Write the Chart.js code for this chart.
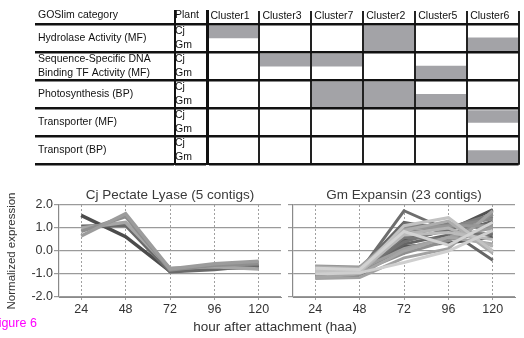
<!DOCTYPE html>
<html><head><meta charset="utf-8">
<script src="https://cdn.jsdelivr.net/npm/chart.js@4"></script>
<style>
html,body{margin:0;padding:0;background:#fff;}
body{width:524px;height:338px;overflow:hidden;position:relative;font-family:"Liberation Sans",Arial,sans-serif;}
canvas{position:absolute;display:block;}
#xt{position:absolute;left:155px;width:240px;top:319px;text-align:center;font-size:13.5px;line-height:16px;color:#333;white-space:nowrap;}
#fig{position:absolute;left:-9px;top:316px;font-size:12.5px;line-height:14px;color:#f0f;white-space:nowrap;}
</style></head>
<body>
<canvas id="tbl" width="530" height="175" style="left:0;top:0"></canvas>
<canvas id="c1" width="285" height="156" style="left:0;top:182px"></canvas>
<canvas id="c2" width="239" height="156" style="left:285px;top:182px"></canvas>
<div id="xt">hour after attachment (haa)</div>
<div id="fig">Figure 6</div>
<script>
// ---------- table data ----------
const headerCategory = 'GOSlim category';
const headerPlant = 'Plant';
const clusters = ['Cluster1','Cluster3','Cluster7','Cluster2','Cluster5','Cluster6'];
const goCategories = [
  ['Hydrolase Activity (MF)'],
  ['Sequence-Specific DNA','Binding TF Activity (MF)'],
  ['Photosynthesis (BP)'],
  ['Transporter (MF)'],
  ['Transport (BP)']
];
const plants = ['Cj','Gm'];
// 1 = shaded (enriched) for that plant / category / cluster
const cjEnriched = [
  [1,0,0,1,0,0],
  [0,1,1,0,0,0],
  [0,0,1,1,0,0],
  [0,0,0,0,0,1],
  [0,0,0,0,0,0]
];
const gmEnriched = [
  [0,0,0,1,0,1],
  [0,0,0,0,1,0],
  [0,0,1,1,1,0],
  [0,0,0,0,0,0],
  [0,0,0,0,0,1]
];

// ---------- line chart data ----------
const hours = ['24','48','72','96','120'];
const yTickValues = [-2, -1, 0, 1, 2];
const cjTitle = 'Cj Pectate Lyase (5 contigs)';
const gmTitle = 'Gm Expansin (23 contigs)';
const cj1 = [1.55, 0.62, -0.88, -0.75, -0.72];
const cj2 = [1.08, 1.12, -0.90, -0.80, -0.62];
const cj3 = [0.65, 1.62, -0.78, -0.55, -0.45];
const cj4 = [0.85, 1.50, -0.82, -0.62, -0.55];
const cj5 = [1.00, 1.25, -0.75, -0.68, -0.78];
const gm01 = [-0.85, -0.90, 1.75, 0.90, 0.70];
const gm02 = [-0.80, -0.85, 1.20, 1.00, 1.20];
const gm03 = [-0.90, -0.90, 1.00, 1.05, 1.40];
const gm04 = [-1.00, -1.00, 0.80, 1.00, 1.60];
const gm05 = [-1.10, -1.05, 0.50, 0.90, 1.80];
const gm06 = [-0.95, -1.00, 0.30, 0.70, 1.30];
const gm07 = [-0.75, -0.80, 0.10, 0.60, 1.00];
const gm08 = [-0.85, -0.90, 1.10, 1.45, 0.00];
const gm09 = [-0.70, -0.75, 0.90, 1.30, -0.10];
const gm10 = [-1.20, -1.15, -0.30, 0.10, 1.75];
const gm11 = [-0.80, -0.80, 1.25, 0.90, -0.40];
const gm12 = [-1.00, -0.95, -0.50, 0.00, 0.90];
const gm13 = [-0.90, -0.90, 0.60, 0.50, 0.80];
const gm14 = [-0.65, -0.70, 0.95, 1.10, 1.10];
const gm15 = [-1.05, -1.10, 0.20, 0.35, 0.60];
const gm16 = [-0.90, -0.85, 0.70, 0.80, 0.50];
const gm17 = [-0.80, -0.85, 0.40, 0.95, 1.50];
const gm18 = [-1.15, -1.00, 0.00, 0.60, 0.30];
const gm19 = [-0.95, -0.95, 1.05, 1.15, 1.00];
const gm20 = [-0.75, -0.80, 0.85, 0.25, 1.25];
const gm21 = [-1.00, -1.05, 0.55, 1.20, 0.95];
const gm22 = [-0.85, -0.90, -0.10, 0.45, 1.60];
const gm23 = [-0.90, -0.95, 0.75, 1.00, 0.20];

const cjSeries = [cj3, cj4, cj5, cj2, cj1];
const gmSeries = [gm12, gm20, gm08, gm16, gm23, gm09, gm18, gm07, gm14, gm10, gm22, gm03, gm19, gm04, gm13, gm17, gm01, gm02, gm06, gm21, gm11, gm15, gm05];

// ---------- styles ----------
const cjColors = ['#9c9c9c','#8e8e8e','#a6a6a6','#6a6a6a','#4c4c4c'];
const gmColors = ['#cfcfcf','#d2d2d2','#c2c2c2','#bbbbbb','#b3b3b3','#adadad','#a5a5a5','#9e9e9e','#979797','#a2a2a2','#8f8f8f','#888888','#838383','#7d7d7d','#777777','#727272','#6e6e6e','#6a6a6a','#646464','#606060','#666666','#575757','#525252'];

Chart.defaults.font.family = '"Liberation Sans", Arial, sans-serif';
Chart.defaults.animation = false;
Chart.defaults.responsive = false;
Chart.defaults.plugins.legend.display = false;
Chart.defaults.plugins.tooltip.enabled = false;

// ---------- table chart ----------
const HEADER_POS = -0.3;
const Y_MIN = -0.455;
const nRows = goCategories.length;
const tableDatasets = [];
goCategories.forEach((cat, r) => {
  [cjEnriched, gmEnriched].forEach((m, h) => {
    tableDatasets.push({
      data: clusters.map((c, ci) => m[r][ci] ? (h === 0 ? [r + 0.08, r + 0.5] : [r + 0.5, r + 0.96]) : null),
      backgroundColor: '#a3a3a7', borderWidth: 0, barPercentage: 1, categoryPercentage: 1,
      grouped: false, yAxisID: 'y2', xAxisID: 'x'
    });
  });
});
const y1Ticks = [HEADER_POS];
const y2Ticks = [HEADER_POS];
for (let r = 0; r <= nRows; r++) {
  y1Ticks.push(r); y2Ticks.push(r);
  if (r < nRows) { y1Ticks.push(r + 0.5); y2Ticks.push(r + 0.25, r + 0.75); }
}
const isLine = ctx => !!(ctx.tick && Number.isInteger(ctx.tick.value));
const tFont = {size: 10.5, lineHeight: 1.4};
const tColor = '#111';

new Chart(document.getElementById('tbl'), {
  type: 'bar',
  data: {labels: clusters, datasets: tableDatasets},
  options: {
    layout: {padding: {left: 38, right: 3, top: 0, bottom: 8}},
    scales: {
      x: {
        type: 'category', position: 'top', offset: true,
        grid: {offset: true, color: '#222', lineWidth: 2, drawTicks: false, z: 1},
        border: {display: false},
        ticks: {mirror: true, padding: -2, align: 'start', labelOffset: -22.5, autoSkip: false, maxRotation: 0, font: tFont, color: tColor},
        afterFit: s => { s.height = 11; }
      },
      y1: {
        axis: 'y', type: 'linear', position: 'left', weight: 2, min: Y_MIN, max: nRows, reverse: true,
        afterBuildTicks: s => { s.ticks = y1Ticks.map(v => ({value: v})); },
        ticks: {
          autoSkip: false, crossAlign: 'far', font: tFont, color: tColor,
          callback: v => v === HEADER_POS ? headerCategory : (Number.isInteger(v) ? '' : goCategories[Math.floor(v)])
        },
        grid: {drawOnChartArea: false, drawTicks: true, tickLength: 140,
          color: ctx => isLine(ctx) ? '#111' : 'rgba(0,0,0,0)', lineWidth: ctx => isLine(ctx) ? 2.5 : 0},
        border: {display: true, color: '#111', width: 2},
        afterFit: s => { s.width = 137; }
      },
      y2: {
        axis: 'y', type: 'linear', position: 'left', weight: 1, min: Y_MIN, max: nRows, reverse: true,
        afterBuildTicks: s => { s.ticks = y2Ticks.map(v => ({value: v})); },
        ticks: {
          autoSkip: false, crossAlign: 'far', font: tFont, color: tColor,
          callback: v => v === HEADER_POS ? headerPlant : (Number.isInteger(v) ? '' : plants[(v - Math.floor(v)) < 0.5 ? 0 : 1])
        },
        grid: {drawOnChartArea: true, drawTicks: true, tickLength: 32, z: 1,
          color: ctx => isLine(ctx) ? '#111' : 'rgba(0,0,0,0)', lineWidth: ctx => isLine(ctx) ? 2.5 : 0},
        border: {display: true, color: '#111', width: 3, z: 1},
        afterFit: s => { s.width = 32; }
      }
    }
  }
});

// ---------- line charts ----------
function makeLine(id, title, series, colors, width, showY, padRight) {
  new Chart(document.getElementById(id), {
    type: 'line',
    data: {
      labels: hours,
      datasets: series.map((s, i) => ({data: s, borderColor: colors[i], borderWidth: width, pointRadius: 0, tension: 0, fill: false}))
    },
    options: {
      layout: {padding: {left: 0, right: padRight, top: 0, bottom: 0}},
      plugins: {
        title: {display: true, text: title, fullSize: false, color: '#3a3a3a',
          font: {size: 13.5, weight: 'normal', lineHeight: 1.2}, padding: {top: 5, bottom: 1.8}}
      },
      scales: {
        x: {
          offset: true,
          grid: {offset: false, color: '#a0a0a0', lineWidth: 1, tickLength: 5, tickBorderDash: [2, 2]},
          border: {display: true, color: '#8a8a8a', width: 1, dash: [2, 2]},
          ticks: {color: '#333', font: {size: 12.5}, padding: 0, maxRotation: 0},
          afterFit: s => { s.height = 41; }
        },
        y: {
          min: -2, max: 2,
          afterBuildTicks: s => { s.ticks = yTickValues.map(v => ({value: v})); },
          ticks: {display: showY, callback: v => Number(v).toFixed(1), color: '#333', font: {size: 12.5}, padding: 1},
          grid: {color: '#9a9a9a', lineWidth: 1.2, tickLength: 5},
          border: {color: '#8a8a8a', width: 1.2},
          title: {display: showY, text: 'Normalized expression', color: '#333', font: {size: 11.5}, padding: {top: 5, bottom: 0}},
          afterFit: s => { s.width = showY ? 59 : 8; }
        }
      }
    }
  });
}
makeLine('c1', cjTitle, cjSeries, cjColors, 3.5, true, 4);
makeLine('c2', gmTitle, gmSeries, gmColors, 3, false, 9);
</script>
</body></html>
